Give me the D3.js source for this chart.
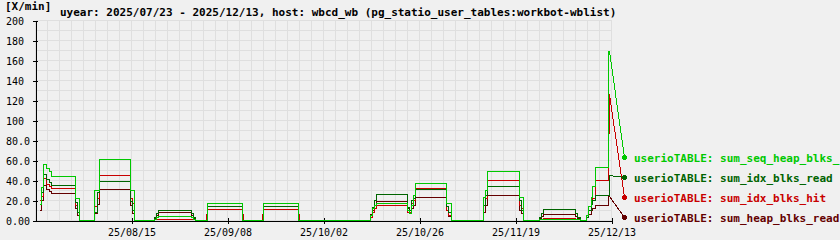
<!DOCTYPE html>
<html>
<head>
<meta charset="utf-8">
<script src="https://cdn.jsdelivr.net/npm/d3@7"></script>
<style>
  body { margin: 0; background: #f0f0f0; }
  svg { display: block; }
  text { font-family: "DejaVu Sans Mono", monospace; }
</style>
</head>
<body>
<div id="chart"></div>
<script>
// sample times (step after)
const times = [
  "2025-07-23 00:00", "2025-07-23 12:00", "2025-07-24 00:00", "2025-07-24 18:00", "2025-07-25 12:00",
  "2025-07-26 00:00", "2025-08-01 00:00", "2025-08-01 12:00", "2025-08-02 00:00",
  "2025-08-05 18:00", "2025-08-06 12:00", "2025-08-07 00:00", "2025-08-14 18:00", "2025-08-15 06:00",
  "2025-08-15 18:00",
  "2025-08-20 18:00", "2025-08-21 06:00", "2025-08-21 18:00", "2025-08-30 00:00", "2025-08-30 12:00",
  "2025-08-31 00:00",
  "2025-09-02 18:00", "2025-09-03 00:00", "2025-09-11 18:00", "2025-09-12 00:00",
  "2025-09-16 18:00", "2025-09-17 00:00", "2025-09-25 18:00", "2025-09-26 00:00",
  "2025-10-13 18:00", "2025-10-14 06:00", "2025-10-14 18:00", "2025-10-15 06:00", "2025-10-23 00:00",
  "2025-10-23 12:00", "2025-10-24 00:00", "2025-10-24 12:00", "2025-10-25 00:00", "2025-11-01 18:00",
  "2025-11-02 06:00", "2025-11-03 00:00",
  "2025-11-11 00:00", "2025-11-11 12:00", "2025-11-12 00:00", "2025-11-20 00:00", "2025-11-20 12:00",
  "2025-11-21 00:00",
  "2025-11-25 00:00", "2025-11-25 12:00", "2025-11-26 00:00", "2025-12-04 00:00", "2025-12-04 12:00",
  "2025-12-05 06:00",
  "2025-12-06 18:00", "2025-12-07 06:00", "2025-12-08 00:00", "2025-12-08 06:00", "2025-12-09 00:00",
  "2025-12-12 06:00", "2025-12-12 12:00"
];

const seqHeapBlksRead = [
  16, 33, 56, 52, 49, 44, 22, 22, 0,
  30, 30, 61, 30, 30, 0,
  1, 3, 4, 3, 1, 0,
  0, 17, 0, 0,
  0, 17, 0, 0,
  5, 12, 15, 17, 10, 7, 15, 25, 37, 17, 17, 0,
  23, 30, 49, 23, 23, 0,
  1, 1, 1, 1, 1, 0,
  5, 14, 23, 34, 53, 169, 169
];
const idxBlksRead = [
  16, 28, 46, 41, 38, 35, 18, 8, 0,
  8, 28, 39, 19, 10, 0,
  3, 7, 10, 7, 3, 0,
  0, 14, 0, 0,
  0, 14, 0, 0,
  5, 13, 20, 26, 13, 10, 20, 22, 31, 14, 8, 0,
  15, 25, 34, 20, 10, 0,
  3, 7, 11, 7, 3, 0,
  3, 10, 16, 20, 25, 25, 45
];
const idxBlksHit = [
  20, 24, 42, 36, 34, 32, 15, 8, 0,
  14, 22, 45, 22, 17, 0,
  1, 1, 1, 1, 1, 0,
  6, 11, 6, 0,
  6, 11, 6, 0,
  3, 8, 12, 15, 8, 8, 17, 20, 32, 10, 5, 0,
  15, 22, 40, 15, 12, 0,
  1, 1, 2, 1, 1, 0,
  5, 10, 20, 22, 40, 87, 126
];
const heapBlksRead = [
  10, 20, 35, 31, 29, 27, 12, 5, 0,
  7, 16, 31, 15, 7, 0,
  2, 5, 8, 5, 2, 0,
  6, 11, 6, 0,
  6, 11, 6, 0,
  6, 10, 15, 19, 12, 8, 12, 15, 23, 10, 4, 0,
  8, 15, 25, 10, 7, 0,
  2, 4, 6, 4, 2, 0,
  3, 6, 10, 12, 15, 24, 24
];

const seriesNames = [
  "userioTABLE: sum_seq_heap_blks_read",
  "userioTABLE: sum_idx_blks_read",
  "userioTABLE: sum_idx_blks_hit",
  "userioTABLE: sum_heap_blks_read"
];
const seriesColors = ["#00c800", "#006400", "#c80000", "#640000"];
const xTickDates = ["2025-08-15", "2025-09-08", "2025-10-02", "2025-10-26", "2025-11-19", "2025-12-13"];
const yTickValues = [0, 20, 40, 60, 80, 100, 120, 140, 160, 180, 200];

const unitLabel = "[X/min]";
const titleText = "uyear: 2025/07/23 - 2025/12/13, host: wbcd_wb (pg_statio_user_tables:workbot-wblist)";

const parseTime = d3.timeParse("%Y-%m-%d %H:%M");
const parseDay = d3.timeParse("%Y-%m-%d");
const dates = times.map(parseTime);

const seriesValues = [seqHeapBlksRead, idxBlksRead, idxBlksHit, heapBlksRead];
const series = seriesValues.map((vals, i) => ({
  name: seriesNames[i],
  color: seriesColors[i],
  points: vals.map((v, j) => ({ date: dates[j], value: v }))
}));

const width = 840, height = 240;
const x = d3.scaleTime()
  .domain([parseDay("2025-07-22"), parseDay("2025-12-13")])
  .range([35.5, 611.5]);
const y = d3.scaleLinear()
  .domain([0, 200])
  .range([220.5, 20.5]);

const svg = d3.select("#chart").append("svg")
  .attr("width", width)
  .attr("height", height)
  .attr("shape-rendering", "crispEdges");

svg.append("rect").attr("width", width).attr("height", height).attr("fill", "#f0f0f0");

// grid
const gridDays = d3.timeDay.range(x.domain()[0], d3.timeDay.offset(x.domain()[1], 1)).filter((d, i) => i % 3 === 0);
svg.append("g").selectAll("line.v")
  .data(gridDays)
  .join("line")
  .attr("x1", d => Math.round(x(d) - 0.5) + 0.5).attr("x2", d => Math.round(x(d) - 0.5) + 0.5)
  .attr("y1", y(200)).attr("y2", y(0))
  .attr("stroke", "#dfdfdf");
svg.append("g").selectAll("line.h")
  .data(y.ticks(20))
  .join("line")
  .attr("x1", x.range()[0]).attr("x2", x.range()[1])
  .attr("y1", d => y(d)).attr("y2", d => y(d))
  .attr("stroke", "#dfdfdf");

// axes
const yAxis = svg.append("g")
  .attr("transform", `translate(${x.range()[0]},0)`)
  .call(d3.axisLeft(y).tickValues(yTickValues).tickFormat(d3.format(".3r")).tickSizeOuter(0));
yAxis.select(".domain").attr("stroke", "#000");
yAxis.selectAll(".tick line").attr("x1", -3).attr("x2", 2).attr("stroke", "#000");
yAxis.selectAll(".tick text")
  .attr("text-anchor", "start")
  .attr("x", 6 - x.range()[0])
  .attr("dy", "0.35em")
  .attr("font-family", "DejaVu Sans Mono")
  .attr("font-size", 10)
  .attr("fill", "#000");

const xAxis = svg.append("g")
  .attr("transform", `translate(0,${y(0)})`)
  .call(d3.axisBottom(x).tickValues(xTickDates.map(parseDay)).tickFormat(d3.timeFormat("%y/%m/%d")).tickSizeOuter(0));
xAxis.select(".domain").attr("stroke", "#000");
xAxis.selectAll(".tick line").attr("y1", -3).attr("y2", 3).attr("stroke", "#000");
xAxis.selectAll(".tick text")
  .attr("y", 15)
  .attr("dy", 0)
  .attr("font-family", "DejaVu Sans Mono")
  .attr("font-size", 10)
  .attr("fill", "#000");

// lines, last series drawn first
const line = d3.line()
  .x(d => x(d.date))
  .y(d => y(d.value))
  .curve(d3.curveStepAfter);

const legendX = 624.5;
const legendY = (i) => y(0) - 3 - 20 * (series.length - 1 - i);

const order = series.map((s, i) => i).reverse();
order.forEach(i => {
  const s = series[i];
  svg.append("path")
    .datum(s.points)
    .attr("d", line)
    .attr("fill", "none")
    .attr("stroke", s.color)
    .attr("stroke-width", 1);
  const last = s.points[s.points.length - 1];
  svg.append("line")
    .attr("x1", x(last.date)).attr("y1", y(last.value))
    .attr("x2", legendX).attr("y2", legendY(i))
    .attr("stroke", s.color)
    .attr("stroke-width", 1);
});

// legend
series.forEach((s, i) => {
  svg.append("circle")
    .attr("cx", legendX).attr("cy", legendY(i))
    .attr("r", 2.5)
    .attr("fill", s.color);
  svg.append("text")
    .attr("x", 634)
    .attr("y", legendY(i) + 4)
    .attr("font-size", 11)
    .attr("font-weight", "bold")
    .attr("fill", s.color)
    .text(s.name);
});

// titles
svg.append("text")
  .attr("x", 5).attr("y", 10)
  .attr("font-size", 11).attr("font-weight", "bold")
  .text(unitLabel);
svg.append("text")
  .attr("x", 60).attr("y", 16)
  .attr("font-size", 11).attr("font-weight", "bold")
  .text(titleText);
</script>
</body>
</html>
